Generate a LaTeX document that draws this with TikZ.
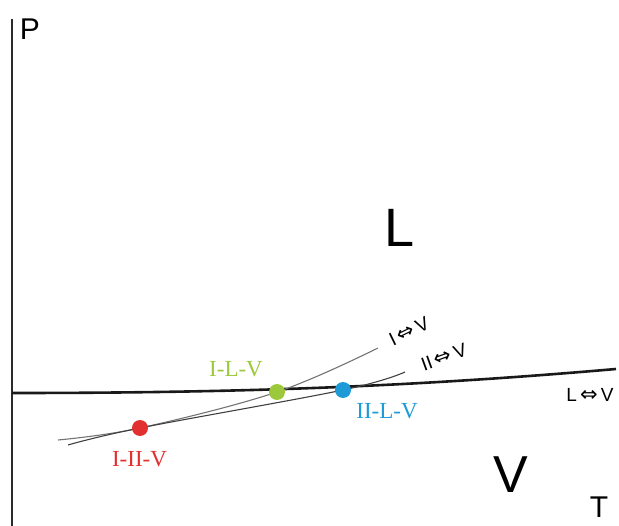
\documentclass[tikz,border=0pt]{standalone}
\usepackage{fontspec}
\setmainfont{Liberation Sans}
\newfontfamily\serifface{Liberation Serif}
\newfontfamily\arrowface{DejaVu Sans}
\definecolor{ptgreen}{HTML}{9CC83C}
\definecolor{ptblue}{HTML}{1E9BD7}
\definecolor{ptred}{HTML}{E1302F}
\definecolor{axisgray}{HTML}{2A2A2A}
\newcommand{\eqarr}{{\arrowface\fontsize{21}{22}\selectfont\char"21D4}}
\tikzset{
  axisline/.style={draw=axisgray, line width=2.8pt},
  lvline/.style={draw=black!90, line width=2.6pt},
  subline/.style={draw=black!75, line width=1.1pt},
  triple/.style={circle, inner sep=0pt, minimum size=16pt},
  ptlabel/.style={font=\serifface\fontsize{23}{26}\selectfont, anchor=base, inner sep=0pt},
  curvelabel/.style={font=\fontsize{19}{22}\selectfont, inner sep=0pt},
  axislabel/.style={font=\fontsize{30}{33}\selectfont, anchor=base, inner sep=0pt},
  phaselabel/.style={font=\fontsize{54}{58}\selectfont, anchor=base, inner sep=0pt}
}
\begin{document}
\begin{tikzpicture}[x=1pt,y=-1pt]
\useasboundingbox (0,0) rectangle (619,526);
% coordinates
\coordinate (axtop) at (12,19);
\coordinate (axbot) at (12,526);
\coordinate (lvstart) at (12,393);
\coordinate (lvend) at (616,369);
\coordinate (ILV) at (277,392);
\coordinate (IILV) at (343,390);
\coordinate (IIIV) at (140,428);
% axis
\draw[axisline] (axtop) -- (axbot);
% L-V line
\draw[lvline] (lvstart) .. controls (250,393) and (420,386) .. (lvend);
% I-V line
\draw[subline, draw=black!55] plot[smooth, tension=0.6] coordinates {(58,440) (IIIV) (ILV) (378,348)};
% II-V line
\draw[subline] plot[smooth, tension=0.6] coordinates {(68,445) (IIIV) (IILV) (405,372)};
% triple points
\node[triple, fill=ptgreen] (dotILV) at (ILV) {};
\node[triple, fill=ptblue] (dotIILV) at (IILV) {};
\node[triple, fill=ptred] (dotIIIV) at (IIIV) {};
% point labels
\node[ptlabel, text=ptgreen] (tILV) at (236,377) {I-L-V};
\node[ptlabel, text=ptblue] (tIILV) at (387,419) {II-L-V};
\node[ptlabel, text=ptred] (tIIIV) at (139.5,467) {I-II-V};
% curve labels
\node[curvelabel, rotate=26] (tIV) at (409,331) {I\,\eqarr\,V};
\node[curvelabel, rotate=20] (tIIV) at (444,357) {II\,\eqarr\,V};
\node[curvelabel] (tLV) at (590,395) {L\,\eqarr\,V};
% axis labels
\node[axislabel] (tP) at (30,40) {P};
\node[axislabel] (tT) at (599,518) {T};
% phase labels
\node[phaselabel] (tL) at (400,247) {L};
\node[phaselabel, font=\fontsize{52}{56}\selectfont] (tV) at (511,493) {V};
\end{tikzpicture}
\end{document}
